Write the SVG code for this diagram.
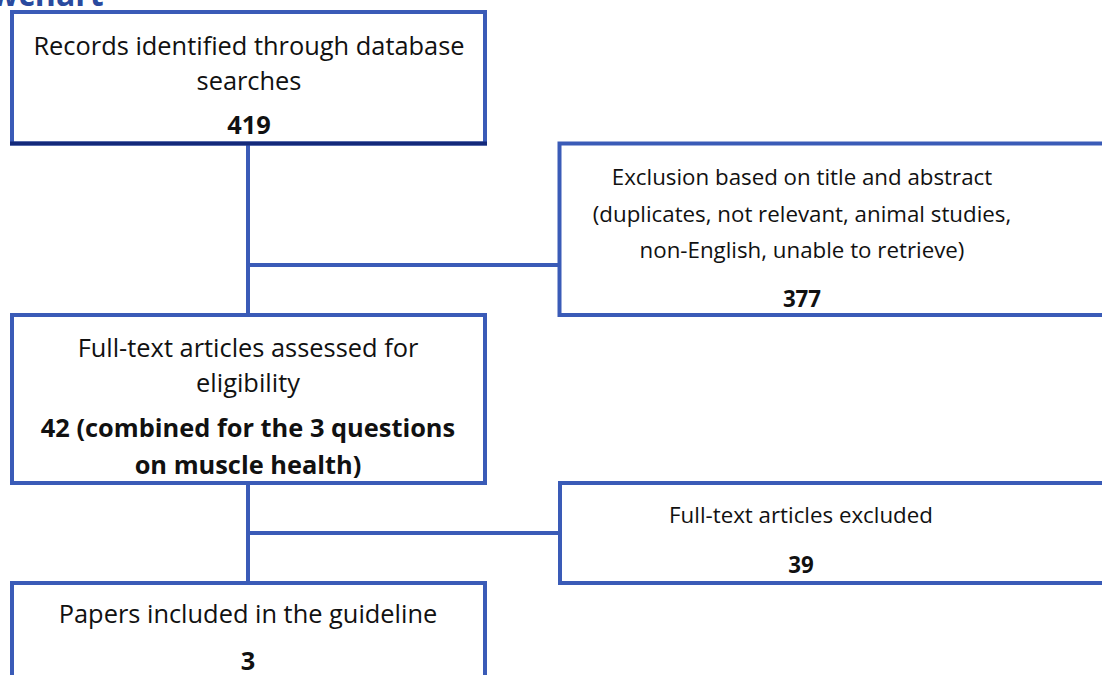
<svg xmlns="http://www.w3.org/2000/svg" width="1102" height="675" viewBox="0 0 1102 675">
<style>
.box{fill:#fff;stroke:#3A5BB7;stroke-width:4}
.conn{stroke:#3A5BB7;stroke-width:4;fill:none}
.t{font-family:"Open Sans","Noto Sans",sans-serif;font-size:22.3px;fill:#111;text-anchor:middle}
.b{font-family:"Open Sans","Noto Sans",sans-serif;font-size:22.3px;font-weight:bold;fill:#111;text-anchor:middle}
.l{font-size:25.4px}
.title{font-family:"Open Sans","Noto Sans",sans-serif;font-size:32px;font-weight:bold;fill:#2A4A9E}
</style>
<rect width="1102" height="675" fill="#fff"/>
<text class="title" x="-9" y="6">wchart</text>
<g id="connectors">
<path class="conn" d="M248 143V315M248 265H559"/>
<path class="conn" d="M248 483V583M248 533H560"/>
</g>
<g id="records">
<rect class="box" x="12" y="12" width="473" height="131.5"/>
<line x1="10" y1="143.5" x2="487" y2="143.5" stroke="#13297A" stroke-width="4"/>
<text class="t l" x="249" y="55">Records identified through database</text>
<text class="t l" x="249" y="90">searches</text>
<text class="b l" x="249" y="134">419</text>
</g>
<g id="exclusion1">
<rect class="box" x="559.5" y="143.5" width="560" height="171.5"/>
<text class="t" x="802" y="185">Exclusion based on title and abstract</text>
<text class="t" x="802" y="221.5">(duplicates, not relevant, animal studies,</text>
<text class="t" x="802" y="258">non-English, unable to retrieve)</text>
<text class="b" x="802" y="306.5">377</text>
</g>
<g id="fulltext">
<rect class="box" x="12" y="315" width="473" height="168"/>
<text class="t l" x="248" y="357">Full-text articles assessed for</text>
<text class="t l" x="248" y="392">eligibility</text>
<text class="b l" x="248" y="437">42 (combined for the 3 questions</text>
<text class="b l" x="248" y="474">on muscle health)</text>
</g>
<g id="exclusion2">
<rect class="box" x="560" y="483" width="560" height="100"/>
<text class="t" x="801" y="523">Full-text articles excluded</text>
<text class="b" x="801" y="573">39</text>
</g>
<g id="included">
<rect class="box" x="12" y="583" width="473" height="120"/>
<text class="t l" x="248" y="623">Papers included in the guideline</text>
<text class="b l" x="248" y="670">3</text>
</g>
</svg>
